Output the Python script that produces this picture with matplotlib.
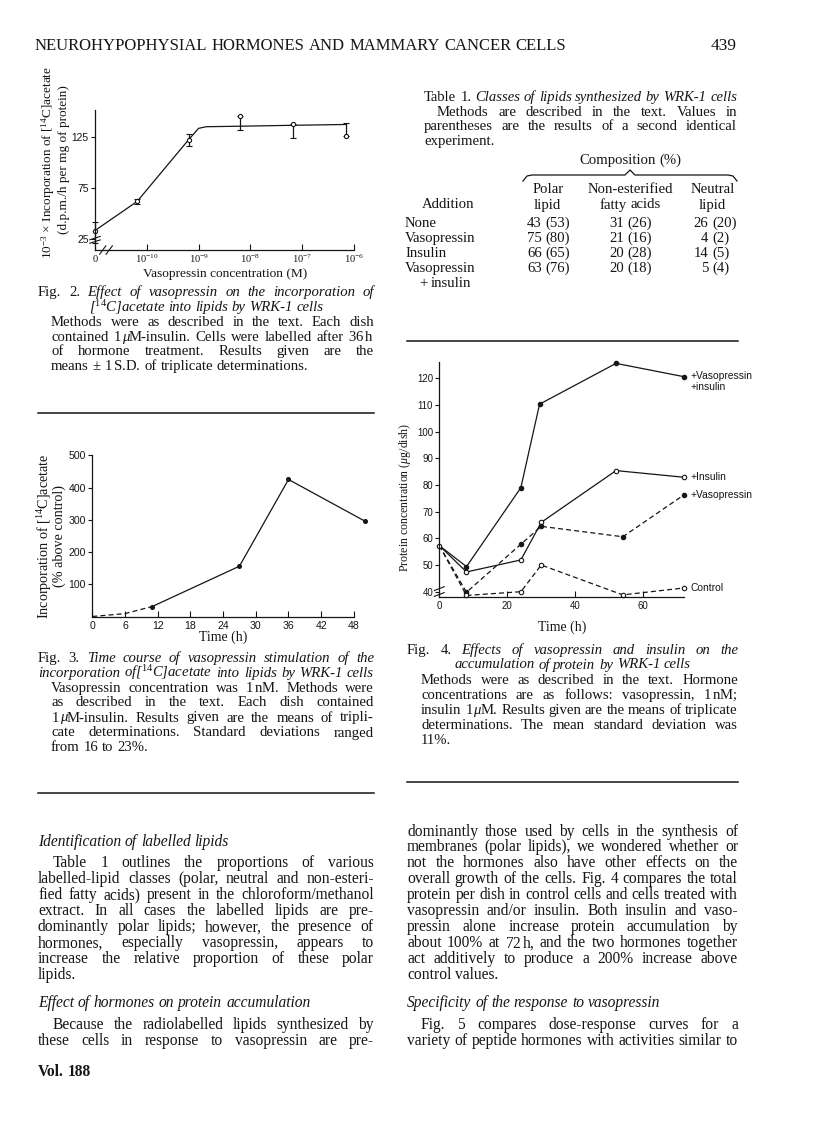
import numpy as np
import matplotlib
matplotlib.use('Agg')
import matplotlib.pyplot as plt
from matplotlib.lines import Line2D

# ---------------- data ----------------
# Fig. 2: vasopressin dose response (conc. in M; the "0" dose sits at 1e-11)
f2_conc = np.array([0, 6.5e-11, 6.4e-10, 6.2e-9, 6.6e-8, 6.9e-7])
f2_mark = np.array([33, 61.5, 122, 145.6, 137.2, 125.7])
f2_lo = np.array([21, 59.5, 116, 131.6, 123.8, 125.7])
f2_hi = np.array([41.7, 63.5, 128, 145.6, 137.2, 138.1])
f2_fit_conc = np.array([0, 6.5e-11, 6.4e-10, 1.0e-9, 1.4e-9, 6.2e-9, 6.6e-8, 6.9e-7])
f2_fit_y = np.array([33, 61.5, 122, 133.2, 134.8, 135.3, 136.2, 137.0])
f2_yticks = [25, 75, 125]
f2_xticks = [1e-11, 1e-10, 1e-9, 1e-8, 1e-7, 1e-6]
f2_xlabels = ['$0$', '$10^{-10}$', '$10^{-9}$', '$10^{-8}$', '$10^{-7}$', '$10^{-6}$']

# Fig. 3: time course (% above control)
f3_t_early = [0, 6, 11]
f3_y_early = [0, 9, 31]
f3_t = [11, 27, 36, 50]
f3_y = [31, 156, 425, 296]
f3_yticks = [100, 200, 300, 400, 500]
f3_xticks = [0, 6, 12, 18, 24, 30, 36, 42, 48]

# Fig. 4: protein per dish (ug)
ctrl_t = [0, 8, 24, 30, 54, 72]
ctrl_y = [57.3, 38.6, 40.0, 50.0, 38.8, 41.4]
vaso_t = [0, 8, 24, 30, 54, 72]
vaso_y = [57.3, 39.8, 57.8, 64.5, 60.6, 76.3]
ins_t = [0, 8, 24, 30, 52, 72]
ins_y = [57.3, 47.4, 51.9, 66.0, 85.4, 82.9]
vi_t = [0, 8, 24, 29.5, 52, 72]
vi_y = [57.3, 49.4, 79.0, 110.3, 125.6, 120.6]
f4_yticks = [40, 50, 60, 70, 80, 90, 100, 110, 120]
f4_xticks = [0, 20, 40, 60]

# Table 1
additions = ['None', 'Vasopressin', 'Insulin', 'Vasopressin']
polar = [43, 75, 66, 63]
polar_2 = [53, 80, 65, 76]
nefa = [31, 21, 20, 20]
nefa_2 = [26, 16, 28, 18]
neutral = [26, 4, 14, 5]
neutral_2 = [20, 2, 5, 4]

# ---------------- page setup ----------------
W, H = 816, 1145
plt.rcParams['font.family'] = 'Liberation Serif'
plt.rcParams['mathtext.fontset'] = 'custom'
plt.rcParams['mathtext.rm'] = 'Liberation Serif'
plt.rcParams['mathtext.it'] = 'Liberation Serif:italic'
plt.rcParams['mathtext.bf'] = 'Liberation Serif:bold'
INK = '#151515'
SANS = 'Liberation Sans'
SERIF = 'Liberation Serif'
CS = 10.6   # caption / table size
BS = 11.2   # body text size

fig = plt.figure(figsize=(W / 100, H / 100), dpi=100)
rend = fig.canvas.get_renderer()


def fx(x):
    return x / W


def fy(y):
    return 1 - y / H


def axes_px(left, top, right, bottom):
    return fig.add_axes([fx(left), fy(bottom), (right - left) / W, (bottom - top) / H])


def wid(t):
    return t.get_window_extent(rend).width


def words_of(parts):
    words = []
    new = True
    for s, st in parts:
        chunks = s.split(' ')
        for i, c in enumerate(chunks):
            if i > 0:
                new = True
            if c == '':
                continue
            if new or not words:
                words.append([(c, st)])
            else:
                words[-1].append((c, st))
            new = False
        if s.endswith(' '):
            new = True
    return words


def tline(x0, x1, yc, parts, size=CS, mode='just', weight='normal', fam=SERIF):
    if isinstance(parts, str):
        parts = [(parts, 'normal')]
    y = yc + 4
    ws = []
    for pieces in words_of(parts):
        ts = [fig.text(0, 0, s, fontsize=size, style=st, family=fam, weight=weight,
                       va='baseline', ha='left', color=INK) for s, st in pieces]
        ws.append((ts, [wid(t) for t in ts]))
    total = sum(sum(w) for _, w in ws)
    n = len(ws)
    gap = size * 100 / 72 * 0.25
    if mode == 'fit':
        k = (x1 - x0) / (total + gap * (n - 1))
        for ts, w in ws:
            for t in ts:
                t.set_fontsize(size * k)
            w[:] = [wi * k for wi in w]
        total *= k
        gap *= k
        mode = 'left'
    if mode == 'just' and n > 1:
        gap = (x1 - x0 - total) / (n - 1)
        x = x0
    else:
        lw = total + gap * (n - 1)
        x = {'left': x0, 'center': (x0 + x1) / 2 - lw / 2, 'right': x1 - lw}.get(mode, x0)
    for ts, w in ws:
        for t, wi in zip(ts, w):
            t.set_position((fx(x), fy(y)))
            x += wi
        x += gap


def hrule(x0, x1, y, lw=1.1):
    fig.add_artist(Line2D([fx(x0), fx(x1)], [fy(y), fy(y)], color=INK, lw=lw,
                          transform=fig.transFigure))


def breakmark(ax, pos, axis='y', d=0.012):
    # little double slash on a spine
    for off in (0, 0.025):
        if axis == 'y':
            ax.plot([-0.02, 0.02], [pos + off - d, pos + off + d], color=INK, lw=0.8,
                    transform=ax.transAxes, clip_on=False)
        else:
            ax.plot([pos + off - d, pos + off + d], [-0.03, 0.03], color=INK, lw=0.8,
                    transform=ax.transAxes, clip_on=False)


def style_axes(ax, tsize):
    ax.spines[['top', 'right']].set_visible(False)
    for s in ('left', 'bottom'):
        ax.spines[s].set_linewidth(0.9)
        ax.spines[s].set_color(INK)
    ax.tick_params(axis='y', direction='out', length=3, width=0.8, pad=1.5,
                   labelsize=tsize, colors=INK)
    ax.tick_params(axis='x', direction='in', length=4, width=0.8, pad=3,
                   labelsize=tsize, colors=INK)
    ax.minorticks_off()
    for lab in ax.get_yticklabels() + ax.get_xticklabels():
        lab.set_family(SANS)


# ---------------- header ----------------
tline(35, 566, 46, 'NEUROHYPOPHYSIAL HORMONES AND MAMMARY CANCER CELLS', size=12, mode='fit')
tline(600, 737, 46, '439', size=12.5, mode='right')

# ---------------- Fig. 2 ----------------
ax2 = axes_px(95, 110, 354, 250)
ax2.set_xscale('log')
x2 = np.where(f2_conc == 0, 1e-11, f2_conc)
xf = np.where(f2_fit_conc == 0, 1e-11, f2_fit_conc)
ax2.plot(xf, f2_fit_y, color=INK, lw=0.9)
ax2.errorbar(x2, f2_mark, yerr=[f2_mark - f2_lo, f2_hi - f2_mark], fmt='o', ms=3,
             mfc='white', mec=INK, mew=0.8, ecolor=INK, elinewidth=0.9, capsize=2.5,
             clip_on=False)
ax2.set_xlim(1e-11, 1e-6)
ax2.set_ylim(13.9, 151.2)
ax2.set_yticks(f2_yticks)
ax2.set_xticks(f2_xticks)
ax2.set_xticklabels(f2_xlabels)
style_axes(ax2, 7.4)
ax2.tick_params(axis='x', pad=2)
for lab in ax2.get_xticklabels():
    lab.set_family(SERIF)
    lab.set_fontsize(7.6)
breakmark(ax2, 0.06, 'y')
breakmark(ax2, 0.03, 'x')
fig.text(fx(48.5), fy(162), '10$^{-3}$ \u00d7 Incorporation of [$^{14}$C]acetate', rotation=90,
         ha='center', va='center', fontsize=9.5, color=INK)
fig.text(fx(63.5), fy(160), '(d.p.m./h per mg of protein)', rotation=90,
         ha='center', va='center', fontsize=9.5, color=INK)
fig.text(fx(225), fy(274), 'Vasopressin concentration (M)', ha='center', va='center',
         fontsize=9.6, color=INK)

tline(38, 374, 292, [('Fig. 2. ', 'normal'), ('Effect of vasopressin on the incorporation of', 'italic')])
tline(38, 374, 307, [('[$^{14}$C]acetate into lipids by WRK-1 cells', 'italic')], mode='center')
tline(51, 374, 322, 'Methods were as described in the text. Each dish')
tline(51, 374, 336.5, [('contained 1$\\,$', 'normal'), ('\u03bc', 'italic'),
                       ('M-insulin. Cells were labelled after 36$\\,$h', 'normal')])
tline(51, 374, 351, 'of hormone treatment. Results given are the')
tline(51, 374, 365.5, 'means \u00b1 1$\\,$S.D. of triplicate determinations.', mode='left')

hrule(38, 374, 413)

# ---------------- Fig. 3 ----------------
ax3 = axes_px(92.3, 455.3, 367.5, 616.5)
ax3.plot(f3_t_early, f3_y_early, color=INK, lw=0.9, ls=(0, (4, 2.5)))
ax3.plot(f3_t, f3_y, color=INK, lw=0.9, marker='o', ms=2.6, clip_on=False)
ax3.set_xlim(0, 50.5)
ax3.set_ylim(0, 500)
ax3.set_yticks(f3_yticks)
ax3.set_xticks(f3_xticks)
ax3.spines['bottom'].set_bounds(0, 48)
style_axes(ax3, 7.6)
fig.text(fx(45), fy(536), 'Incorporation of [$^{14}$C]acetate', rotation=90,
         ha='center', va='center', fontsize=10.2, color=INK)
fig.text(fx(59.5), fy(536), '(% above control)', rotation=90,
         ha='center', va='center', fontsize=10.2, color=INK)
fig.text(fx(223), fy(637), 'Time (h)', ha='center', va='center', fontsize=10, color=INK)

tline(38, 374, 658, [('Fig. 3. ', 'normal'), ('Time course of vasopressin stimulation of the', 'italic')])
tline(38, 374, 673, [('incorporation of[$^{14}$C]acetate into lipids by WRK-1 cells', 'italic')])
tline(51, 374, 688, 'Vasopressin concentration was 1$\\,$nM. Methods were')
tline(51, 374, 702.5, 'as described in the text. Each dish contained')
tline(51, 374, 717.5, [('1$\\,$', 'normal'), ('\u03bc', 'italic'),
                       ('M-insulin. Results given are the means of tripli-', 'normal')])
tline(51, 374, 732.5, 'cate determinations. Standard deviations ranged')
tline(51, 374, 747, 'from 16 to 23%.', mode='left')

hrule(38, 374, 793)

# ---------------- Table 1 ----------------
tline(424, 737, 97, [('Table 1. ', 'normal'), ('Classes of lipids synthesized by WRK-1 cells', 'italic')],
      size=CS, mode='fit')
tline(437, 737, 111.5, 'Methods are described in the text. Values in')
tline(424, 737, 126, 'parentheses are the results of a second identical')
tline(424, 737, 141, 'experiment.', mode='left')
tline(560, 700, 160, 'Composition (%)', mode='center')
bx = np.array([523, 527, 532, 625, 630, 635, 728, 733, 737])
by = np.array([181, 176, 175, 175, 170, 175, 175, 176, 181])
fig.add_artist(Line2D(fx(bx), fy(by), color=INK, lw=0.9, transform=fig.transFigure))
for cx, (h1, h2) in zip([547.7, 630, 712.7], [('Polar', 'lipid'), ('Non-esterified', 'fatty acids'),
                                              ('Neutral', 'lipid')]):
    tline(cx - 60, cx + 60, 189, h1, mode='center')
    tline(cx - 60, cx + 60, 204.5, h2, mode='center')
tline(400, 496, 204.5, 'Addition', mode='center')
row_y = [222.7, 237.7, 252.7, 267.7]
for i, yy in enumerate(row_y):
    tline(405, 520, yy, additions[i], mode='left')
    for split, a, b in [(543.7, polar, polar_2), (625.8, nefa, nefa_2), (710.3, neutral, neutral_2)]:
        fig.text(fx(split - 2), fy(yy + 4), str(a[i]), ha='right', va='baseline', fontsize=CS, color=INK)
        fig.text(fx(split + 2), fy(yy + 4), '(%d)' % b[i], ha='left', va='baseline', fontsize=CS, color=INK)
tline(419, 520, 283, '+ insulin', mode='left')

hrule(407, 738, 341)

# ---------------- Fig. 4 ----------------
ax4 = axes_px(439.3, 362.3, 684, 597.3)
f4_series = [
    (vi_t, vi_y, '-', INK, '+Vasopressin\n+insulin'),
    (ins_t, ins_y, '-', 'white', '+Insulin'),
    (vaso_t, vaso_y, (0, (4, 2.5)), INK, '+Vasopressin'),
    (ctrl_t, ctrl_y, (0, (4, 2.5)), 'white', 'Control'),
]
for t, y, ls, fc, lab in f4_series:
    ax4.plot(t, y, color=INK, lw=0.9, ls=ls, marker='o', ms=3.2, mfc=fc, mec=INK, mew=0.8,
             markevery=slice(1, None), clip_on=False)
    if '\n' in lab:
        ax4.annotate(lab, (t[-1], y[-1]), xytext=(5, 4), textcoords='offset points', ha='left',
                     va='top', fontsize=7.4, family=SANS, color=INK, linespacing=1.15,
                     annotation_clip=False)
    else:
        ax4.annotate(lab, (t[-1], y[-1]), xytext=(5, 0), textcoords='offset points', ha='left',
                     va='center', fontsize=7.4, family=SANS, color=INK, annotation_clip=False)
ax4.plot(ctrl_t[0], ctrl_y[0], 'o', ms=3.2, mfc='white', mec=INK, mew=0.8, clip_on=False)
ax4.set_xlim(0, 72)
ax4.set_ylim(37.9, 126)
ax4.set_yticks(f4_yticks)
ax4.set_xticks(f4_xticks)
style_axes(ax4, 6.9)
breakmark(ax4, 0.012, 'y', d=0.008)
fig.text(fx(405), fy(497), 'Protein concentration ($\\mu$g/dish)', rotation=90,
         ha='center', va='center', fontsize=8.6, color=INK)
fig.text(fx(562), fy(627), 'Time (h)', ha='center', va='center', fontsize=10, color=INK)

tline(407, 738, 650, [('Fig. 4. ', 'normal'), ('Effects of vasopressin and insulin on the', 'italic')])
tline(407, 738, 664.5, [('accumulation of protein by WRK-1 cells', 'italic')], mode='center')
tline(421, 738, 680, 'Methods were as described in the text. Hormone')
tline(421, 738, 695, 'concentrations are as follows: vasopressin, 1$\\,$nM;')
tline(421, 738, 710, [('insulin 1$\\,$', 'normal'), ('\u03bc', 'italic'),
                      ('M. Results given are the means of triplicate', 'normal')])
tline(421, 738, 725, 'determinations. The mean standard deviation was')
tline(421, 738, 740, '11%.', mode='left')

hrule(407, 738, 782)

# ---------------- body text ----------------
tline(38, 374, 842, [('Identification of labelled lipids', 'italic')], size=BS, mode='left')
left_para = [
    'Table 1 outlines the proportions of various',
    'labelled-lipid classes (polar, neutral and non-esteri-',
    'fied fatty acids) present in the chloroform/methanol',
    'extract. In all cases the labelled lipids are pre-',
    'dominantly polar lipids; however, the presence of',
    'hormones, especially vasopressin, appears to',
    'increase the relative proportion of these polar',
    'lipids.',
]
for k, s in enumerate(left_para):
    tline(53 if k == 0 else 38, 374, 863.4 + k * 15.95, s, size=BS,
          mode='left' if k == len(left_para) - 1 else 'just')
tline(38, 374, 1003, [('Effect of hormones on protein accumulation', 'italic')], size=BS, mode='left')
tline(53, 374, 1025, 'Because the radiolabelled lipids synthesized by', size=BS)
tline(38, 374, 1041, 'these cells in response to vasopressin are pre-', size=BS)
tline(38, 374, 1072, 'Vol. 188', size=BS, mode='left', weight='bold')

right_para = [
    'dominantly those used by cells in the synthesis of',
    'membranes (polar lipids), we wondered whether or',
    'not the hormones also have other effects on the',
    'overall growth of the cells. Fig. 4 compares the total',
    'protein per dish in control cells and cells treated with',
    'vasopressin and/or insulin. Both insulin and vaso-',
    'pressin alone increase protein accumulation by',
    'about 100% at 72$\\,$h, and the two hormones together',
    'act additively to produce a 200% increase above',
    'control values.',
]
for k, s in enumerate(right_para):
    tline(407, 738, 831.5 + k * 15.95, s, size=BS,
          mode='left' if k == len(right_para) - 1 else 'just')
tline(407, 738, 1003, [('Specificity of the response to vasopressin', 'italic')], size=BS, mode='left')
tline(421, 738, 1025, 'Fig. 5 compares dose-response curves for a', size=BS)
tline(407, 738, 1041, 'variety of peptide hormones with activities similar to', size=BS)

fig.savefig('out.png', dpi=100, facecolor='white')
